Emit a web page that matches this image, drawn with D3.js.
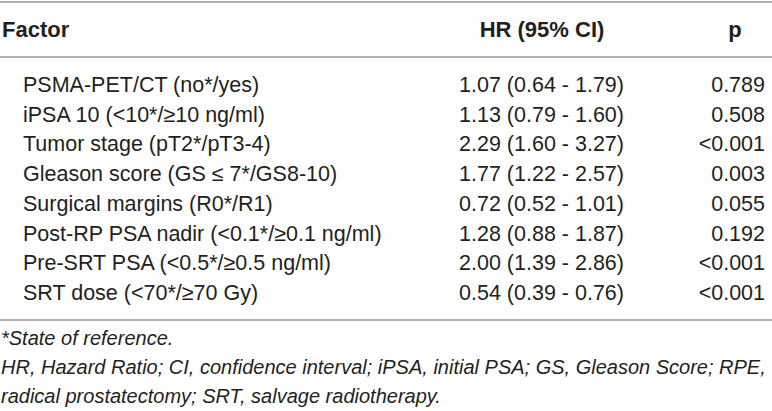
<!DOCTYPE html>
<html>
<head>
<meta charset="utf-8">
<script src="https://cdn.jsdelivr.net/npm/d3@7"></script>
<style>
  body { margin: 0; background: #fff; }
  text { font-family: "Liberation Sans", Arial, sans-serif; fill: #231f20; }
</style>
</head>
<body>
<svg width="772" height="411"></svg>
<script>
var factors = [
  'PSMA-PET/CT (no*/yes)',
  'iPSA 10 (<10*/\u226510 ng/ml)',
  'Tumor stage (pT2*/pT3-4)',
  'Gleason score (GS \u2264 7*/GS8-10)',
  'Surgical margins (R0*/R1)',
  'Post-RP PSA nadir (<0.1*/\u22650.1 ng/ml)',
  'Pre-SRT PSA (<0.5*/\u22650.5 ng/ml)',
  'SRT dose (<70*/\u226570 Gy)'
];
var hr     = [1.07, 1.13, 2.29, 1.77, 0.72, 1.28, 2.00, 0.54];
var ciLow  = [0.64, 0.79, 1.60, 1.22, 0.52, 0.88, 1.39, 0.39];
var ciHigh = [1.79, 1.60, 3.27, 2.57, 1.01, 1.87, 2.86, 0.76];
var pLabels = ['0.789', '0.508', '<0.001', '0.003', '0.055', '0.192', '<0.001', '<0.001'];
var headers = ['Factor', 'HR (95% CI)', 'p'];
var footnotes = [
  '*State of reference.',
  'HR, Hazard Ratio; CI, confidence interval; iPSA, initial PSA; GS, Gleason Score; RPE,',
  'radical prostatectomy; SRT, salvage radiotherapy.'
];

var svg = d3.select('svg'),
  w = +svg.attr('width'),
  f2 = d3.format('.2f');

// row baselines
var y = d3.scalePoint()
  .domain(d3.range(factors.length))
  .range([92, 300]);

var rule = '#b3b3b3';
function line(yy) {
  svg.append('line')
    .attr('x1', 0).attr('x2', w)
    .attr('y1', yy).attr('y2', yy)
    .attr('stroke', rule).attr('stroke-width', 2);
}
line(2);
line(57);
line(320);

// header
var head = svg.append('g').style('font-weight', 'bold').style('font-size', '22px');
head.append('text').attr('x', 2).attr('y', 37).text(headers[0]);
head.append('text').attr('x', 542).attr('y', 37).attr('text-anchor', 'middle').text(headers[1]);
head.append('text').attr('x', 735).attr('y', 37).attr('text-anchor', 'middle').text(headers[2]);

// body rows
var rows = svg.append('g').style('font-size', '21.5px')
  .selectAll('g')
  .data(factors)
  .enter().append('g')
  .attr('transform', function(d, i) { return 'translate(0,' + y(i) + ')'; });

rows.append('text')
  .attr('x', 23)
  .text(function(d) { return d; });

rows.append('text')
  .attr('x', 541.5)
  .attr('text-anchor', 'middle')
  .text(function(d, i) {
    return f2(hr[i]) + ' (' + f2(ciLow[i]) + ' - ' + f2(ciHigh[i]) + ')';
  });

rows.append('text')
  .attr('x', 765)
  .attr('text-anchor', 'end')
  .text(function(d, i) { return pLabels[i]; });

// footnotes
svg.append('g').style('font-size', '20px').style('font-style', 'italic')
  .selectAll('text')
  .data(footnotes)
  .enter().append('text')
  .attr('x', 1)
  .attr('y', function(d, i) { return 345 + i * 29; })
  .text(function(d) { return d; });
</script>
</body>
</html>
